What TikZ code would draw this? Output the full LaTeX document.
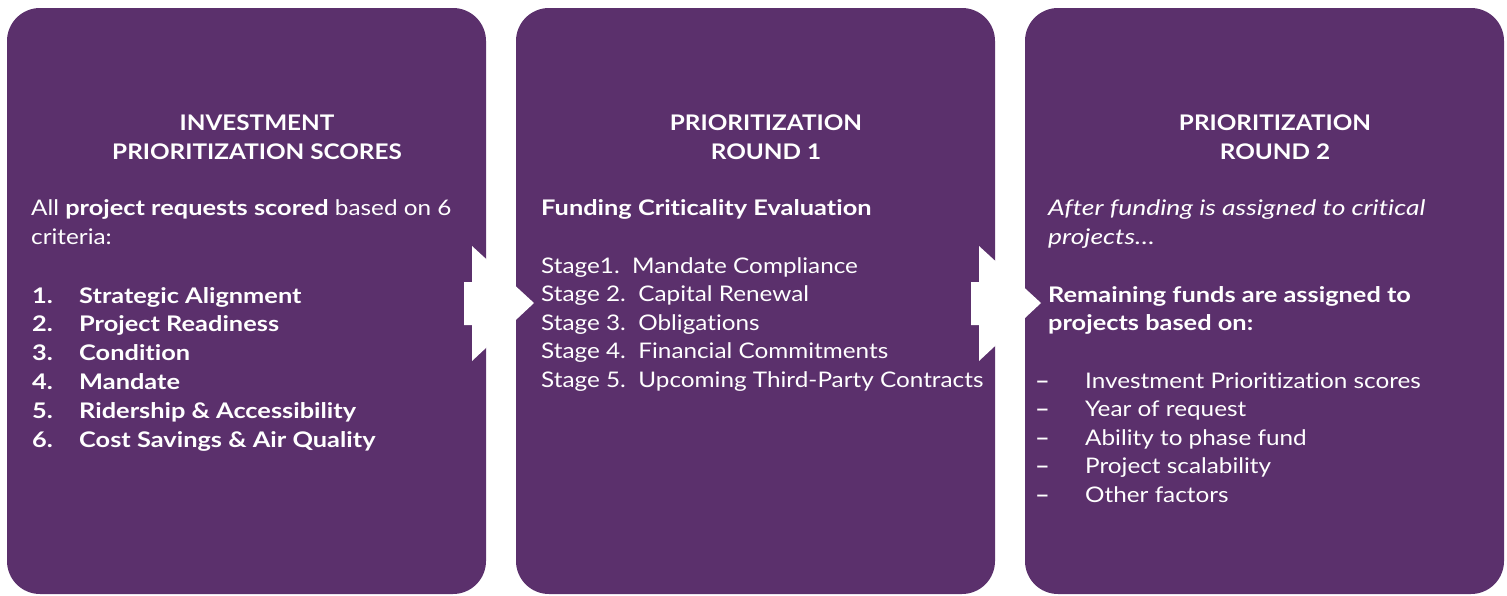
\documentclass[tikz,border=0pt]{standalone}
\usepackage{fontspec}
\setmainfont{Lato}[FakeStretch=1.13,Ligatures=NoCommon,
  BoldFeatures={FakeStretch=1.18},ItalicFeatures={FakeStretch=1.23}]
\newfontfamily\titlefont{Lato}[FakeStretch=1.13,Ligatures=NoCommon]
\definecolor{boxpurple}{RGB}{91,48,108}
\begin{document}
\begin{tikzpicture}[x=1pt,y=-1pt,
  panel/.style={fill=boxpurple,draw=none,rounded corners=33pt},
  arrowshape/.style={fill=white,draw=none},
  txt/.style={text=white,inner sep=0pt,anchor=base west,font=\fontsize{21.5}{28}\selectfont},
  btxt/.style={txt,font=\fontsize{21.5}{28}\selectfont\bfseries},
  itxt/.style={txt,font=\fontsize{21.5}{28}\selectfont\itshape},
  ttl/.style={txt,anchor=base,font=\titlefont\fontsize{21.5}{28}\selectfont\bfseries}]
\useasboundingbox (0,0) rectangle (1507,595);
% panels
\path[panel] (7,8) rectangle (486,594);
\path[panel] (516,8) rectangle (995,594);
\path[panel] (1025,8) rectangle (1504,594);
% arrows
\path[arrowshape] (464,282) -- (472,282) -- (472,246) -- (534,303) -- (472,361) -- (472,325) -- (464,325) -- cycle;
\path[arrowshape] (971,282) -- (979,282) -- (979,246) -- (1041,303) -- (979,361) -- (979,325) -- (971,325) -- cycle;
% panel 1
\node[ttl] (t1a) at (257,130) {INVESTMENT};
\node[ttl] (t1b) at (257,159) {PRIORITIZATION SCORES};
\node[txt] (b1a) at (31,215) {All \textbf{project requests scored} based on 6};
\node[txt] (b1b) at (31,244) {criteria:};
\foreach \n/\t [count=\i] in {1/Strategic Alignment,2/Project Readiness,3/Condition,4/Mandate,5/Ridership \& Accessibility,6/Cost Savings \& Air Quality}{
  \node[btxt] (n\i) at (32,{303+28.8*(\i-1)}) {\n.};
  \node[btxt] (l\i) at (79,{303+28.8*(\i-1)}) {\t};
}
% panel 2
\node[ttl] (t2a) at (766,130) {PRIORITIZATION};
\node[ttl] (t2b) at (766,159) {ROUND 1};
\node[btxt] (f2) at (541,215) {Funding Criticality Evaluation};
\node[txt] (s1) at (541,273) {Stage1.\ \ Mandate Compliance};
\node[txt] (s2) at (541,301.6) {Stage 2.\ \ Capital Renewal};
\node[txt] (s3) at (541,330.2) {Stage 3.\ \ Obligations};
\node[txt] (s4) at (541,358.8) {Stage 4.\ \ Financial Commitments};
\node[txt] (s5) at (541,387.4) {Stage 5.\ \ Upcoming Third-Party Contracts};
% panel 3
\node[ttl] (t3a) at (1275,130) {PRIORITIZATION};
\node[ttl] (t3b) at (1275,159) {ROUND 2};
\node[itxt] (i3a) at (1048,215) {After funding is assigned to critical};
\node[itxt] (i3b) at (1048,244) {projects\ldots};
\node[btxt] (r3a) at (1048,302) {Remaining funds are assigned to};
\node[btxt] (r3b) at (1048,330) {projects based on:};
\foreach \t [count=\i] in {Investment Prioritization scores,Year of request,Ability to phase fund,Project scalability,Other factors}{
  \node[btxt] (d\i) at (1035,{388+28.5*(\i-1)}) {--};
  \node[txt] (e\i) at (1085,{388+28.5*(\i-1)}) {\t};
}
\end{tikzpicture}
\end{document}
